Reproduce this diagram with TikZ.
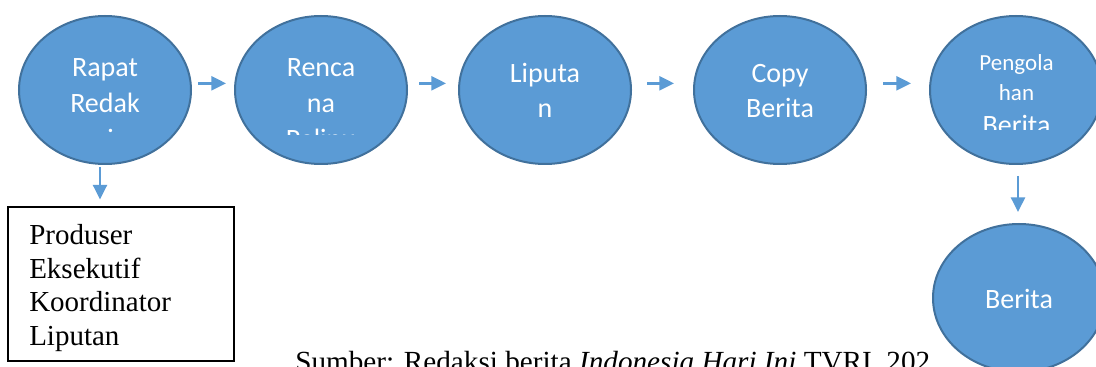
\documentclass[tikz,border=0pt]{standalone}
\usepackage{fontspec}
\setmainfont{Liberation Serif}
\newfontfamily\calibfont{Carlito}
\newfontfamily\timesfont{Liberation Serif}
\usetikzlibrary{arrows.meta,shapes.geometric}
\definecolor{bubfill}{HTML}{5B9BD5}
\definecolor{bubline}{HTML}{41719C}
\definecolor{arrcol}{HTML}{5B9BD5}
\tikzset{
  bub/.style={ellipse,draw=bubline,fill=bubfill,line width=1.5pt,inner sep=0pt,
              minimum width=129pt,minimum height=111pt},
  bigtxt/.style={text=white,align=center,inner sep=0pt,
                 font=\calibfont\fontsize{21}{27}\selectfont},
  midtxt/.style={text=white,align=center,inner sep=0pt,
                 font=\calibfont\fontsize{21}{26.25}\selectfont},
  linetxt/.style={text=white,inner sep=0pt,anchor=base,
                 font=\calibfont\fontsize{17.25}{22}\selectfont},
  arr/.style={draw=arrcol,line width=1.9pt,-{Triangle[length=11pt,width=10.5pt]}},
  boxstyle/.style={draw=black,line width=0.8pt,inner sep=0pt,
                   minimum width=226pt*0.75,minimum height=154pt*0.75},
  boxtxt/.style={align=left,inner sep=0pt,anchor=north west,
                 font=\timesfont\fontsize{21.75}{25.3}\selectfont},
  captxt/.style={inner sep=0pt,anchor=base west,font=\timesfont\fontsize{21.9}{25}\selectfont}
}
\begin{document}
\begin{tikzpicture}[x=0.75pt,y=-0.75pt]
\useasboundingbox[fill=white] (0,0) rectangle (1096,367);

% caption (its end is hidden as in the reference)
\node[captxt] (cap) at (295,371) {Sumber: Redaksi berita \textit{Indonesia Hari Ini} TVRI, 202};

% ellipses
\node[bub] (r1) at (105,90) {};
\node[bub] (r2) at (321,90) {};
\node[bub] (r3) at (545,90) {};
\node[bub] (r4) at (780,90) {};
\node[bub] (r5) at (1016,90) {};
\node[bub] (r6) at (1019,298) {};

% texts (clipped as in the reference)
\begin{scope}
  \clip (18,10) rectangle (192,134);
  \node[bigtxt] (t1) at (105,105) {Rapat\strut\\Redak\strut\\si\strut};
\end{scope}
\begin{scope}
  \clip (234,10) rectangle (408,135);
  \node[bigtxt] (t2) at (321,105) {Renca\strut\\na\strut\\Pelipu\strut};
\end{scope}
\node[midtxt] (t3) at (545,93.5) {Liputa\strut\\n\strut};
\node[midtxt] (t4) at (780,93.5) {Copy\strut\\Berita\strut};
\node[linetxt] (t5a) at (1016.5,71) {Pengola};
\node[linetxt] (t5b) at (1016.5,100.5) {han};
\begin{scope}
  \clip (929,10) rectangle (1100,130);
  \node[linetxt,font=\calibfont\fontsize{21}{26}\selectfont] (t5c) at (1016.5,134.5) {Berita};
\end{scope}
\node[midtxt] (t6) at (1019,301) {Berita\strut};

% horizontal arrows
\draw[arr,shorten <=4.5pt,shorten >=6pt] ([yshift=5pt]r1.east) -- ([yshift=5pt]r2.west);
\draw[arr,shorten <=8.25pt,shorten >=9pt] ([yshift=5pt]r2.east) -- ([yshift=5pt]r3.west);
\draw[arr,shorten <=11.25pt,shorten >=14.25pt] ([yshift=5pt]r3.east) -- ([yshift=5pt]r4.west);
\draw[arr,shorten <=12pt,shorten >=13.5pt] ([yshift=5pt]r4.east) -- ([yshift=5pt]r5.west);

% box
\node[boxstyle] (box) at (121,284) {};
\node[boxtxt] (boxt) at (29,220.4) {Produser\strut\\Eksekutif\strut\\Koordinator\strut\\Liputan\strut};

% vertical arrows
\draw[arr,shorten <=1.5pt,shorten >=5.25pt] ([xshift=-3.75pt]r1.south) -- ([xshift=-3.75pt]r1.south |- box.north);
\draw[arr,shorten <=8.25pt,shorten >=8.25pt] ([xshift=1.5pt]r5.south) -- ([xshift=1.5pt]r5.south |- r6.north);
\end{tikzpicture}
\end{document}
